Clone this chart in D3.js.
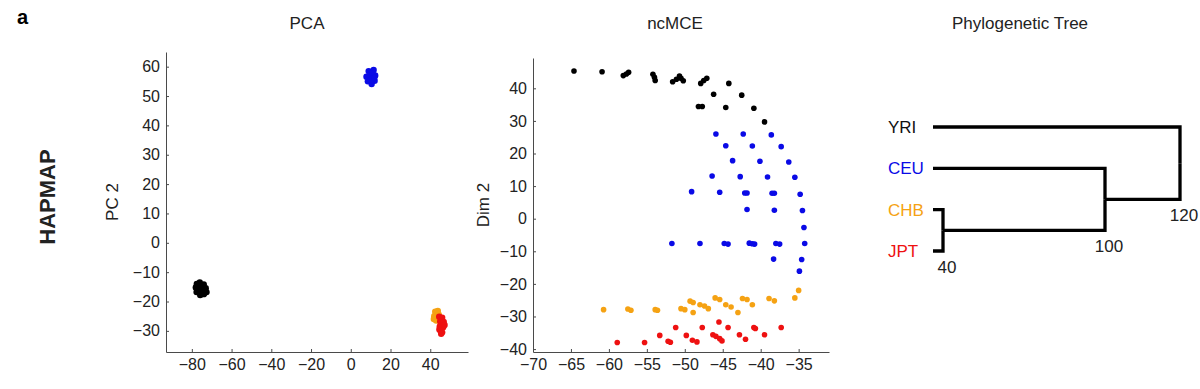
<!DOCTYPE html>
<html>
<head>
<meta charset="utf-8">
<script src="https://cdn.jsdelivr.net/npm/d3@7"></script>
<style>
  body { margin: 0; background: #fff; }
  text { font-family: "Liberation Sans", Arial, Helvetica, sans-serif; }
</style>
</head>
<body>
<svg id="fig" width="1200" height="389"></svg>
<script>
// populations, in drawing order
const popNames = ["YRI", "CEU", "CHB", "JPT"];
const popColors = ["#000000", "#0a0ae6", "#f5a213", "#ee1111"];

// PCA (PC1, PC2) - tight clusters
const pcaYRI = [[-75.3,-15.5],[-77.5,-14.0],[-76.0,-13.5],[-74.0,-14.2],[-73.0,-15.5],[-72.6,-16.8],[-74.0,-17.5],
  [-75.8,-17.8],[-77.6,-16.8],[-78.0,-15.2],[-76.5,-16.0],[-74.5,-16.2],[-75.0,-14.5],[-76.8,-15.0],[-73.5,-17.0]];
const pcaCEU = [[10.5,56.5],[9.0,58.5],[11.5,58.9],[12.3,57.0],[12.0,55.2],[10.5,54.1],[8.6,55.0],[7.9,56.6],
  [9.5,57.2],[11.0,57.8],[10.0,55.5],[11.8,56.2]];
const pcaCHB = [[42.5,-23.5],[43.8,-23.2],[44.3,-24.5],[42.0,-25.0],[43.0,-26.5],[41.8,-26.0],[44.0,-26.2]];
const pcaJPT = [[44.5,-25.2],[46.0,-25.5],[45.0,-26.8],[46.8,-27.0],[44.8,-28.5],[46.5,-28.8],[45.2,-30.0],
  [46.0,-30.5],[44.6,-29.5],[47.2,-28.0],[45.5,-31.0]];

// ncMCE (Dim 1, Dim 2)
const mceYRI = [[-64.6,45.3],[-60.9,45.1],[-58.1,43.9],[-57.7,44.4],[-57.4,44.9],[-54.2,44.3],[-54.0,43.4],[-53.9,42.4],
  [-51.6,42.0],[-51.1,42.8],[-50.7,43.8],[-50.5,43.1],[-50.2,42.3],[-47.9,41.5],[-47.5,42.4],[-47.1,43.1],
  [-44.2,41.5],[-46.2,38.2],[-42.5,37.9],[-48.2,34.4],[-47.7,34.4],[-44.6,34.1],[-40.9,33.9],[-39.5,29.7]];
const mceCEU = [[-45.9,26.0],[-42.3,26.0],[-38.6,25.7],[-44.6,22.4],[-41.1,22.3],[-37.3,22.1],
  [-43.7,17.8],[-40.1,17.6],[-36.3,17.4],[-46.4,13.1],[-42.7,12.9],[-39.1,12.8],[-35.5,12.7],
  [-49.1,8.3],[-45.4,8.1],[-42.1,7.9],[-41.8,7.9],[-38.5,7.8],[-38.2,7.8],[-34.8,7.5],
  [-41.8,2.8],[-38.2,2.6],[-34.5,2.5],[-34.3,-2.7],
  [-51.7,-7.6],[-48.0,-7.6],[-44.8,-7.6],[-44.3,-7.8],[-41.5,-7.5],[-41.1,-7.7],[-40.8,-7.8],[-38.0,-7.6],[-37.5,-7.8],[-34.2,-7.6],
  [-38.3,-12.4],[-34.6,-12.5],[-34.9,-16.1]];
const mceCHB = [[-35.0,-22.0],[-35.5,-24.3],[-38.9,-24.5],[-38.2,-25.2],[-42.4,-24.5],[-41.8,-24.8],[-41.1,-26.4],
  [-46.0,-24.3],[-45.4,-24.8],[-44.6,-26.4],[-43.9,-27.1],[-43.0,-28.8],[-49.3,-25.3],[-48.9,-25.7],
  [-48.0,-26.4],[-47.4,-26.8],[-46.9,-27.6],[-48.9,-28.8],[-50.5,-27.6],[-50.0,-27.9],[-53.9,-27.9],[-53.6,-28.1],
  [-57.5,-27.7],[-57.1,-28.1],[-60.7,-27.9]];
const mceJPT = [[-37.3,-33.4],[-39.5,-35.6],[-40.9,-33.4],[-40.7,-33.7],[-42.0,-37.0],[-42.8,-35.6],[-44.3,-33.4],
  [-45.5,-31.7],[-46.3,-35.6],[-45.9,-36.1],[-45.4,-36.8],[-45.1,-37.5],[-47.7,-33.4],[-49.0,-37.3],[-48.4,-37.8],
  [-49.8,-35.8],[-51.2,-33.4],[-52.2,-37.6],[-51.9,-37.9],[-53.3,-35.8],[-55.3,-38.0],[-58.9,-38.0]];

// tick values
const pcaXTicks = [-80, -60, -40, -20, 0, 20, 40];
const pcaYTicks = [-30, -20, -10, 0, 10, 20, 30, 40, 50, 60];
const mceXTicks = [-70, -65, -60, -55, -50, -45, -40, -35];
const mceYTicks = [-40, -30, -20, -10, 0, 10, 20, 30, 40];

// tree: merge heights
const treeData = {height: 120, children: [
  {name: "YRI", height: 0},
  {height: 100, children: [
    {name: "CEU", height: 0},
    {height: 40, children: [{name: "CHB", height: 0}, {name: "JPT", height: 0}]}
  ]}
]};
const treeHeights = [0, 40, 100, 120];

const svg = d3.select("#fig");
const colorOf = d3.scaleOrdinal(popNames, popColors);

function scatterPanel(xDom, yDom, xRange, yRange, xTicks, yTicks, sets, r, title, titleX, yLabel, yLabelX) {
  const x = d3.scaleLinear().domain(xDom).range(xRange);
  const y = d3.scaleLinear().domain(yDom).range(yRange);
  const g = svg.append("g");

  const xa = g.append("g").attr("transform", `translate(0,${yRange[0]})`)
    .call(d3.axisBottom(x).tickValues(xTicks).tickSizeInner(-3).tickSizeOuter(0).tickPadding(7));
  const ya = g.append("g").attr("transform", `translate(${xRange[0]},0)`)
    .call(d3.axisLeft(y).tickValues(yTicks).tickSizeInner(-3).tickSizeOuter(0).tickPadding(6));
  [xa, ya].forEach(a => {
    a.attr("font-family", null).attr("font-size", 16).attr("color", "#4a4a4a");
    a.selectAll("text").attr("fill", "#222");
  });

  sets.forEach((pts, i) => {
    g.append("g").attr("fill", colorOf(popNames[i]))
      .selectAll("circle").data(pts).join("circle")
      .attr("cx", d => x(d[0])).attr("cy", d => y(d[1])).attr("r", r);
  });

  g.append("text").attr("x", titleX).attr("y", 29).attr("text-anchor", "middle")
    .attr("font-size", 17).attr("fill", "#222").text(title);
  g.append("text").attr("transform", `translate(${yLabelX},${(yRange[0] + yRange[1]) / 2}) rotate(-90)`)
    .attr("text-anchor", "middle").attr("font-size", 17).attr("fill", "#222").text(yLabel);
}

// panel letter + row label
svg.append("text").attr("x", 17).attr("y", 24).attr("font-size", 20).attr("font-weight", "bold").text("a");
svg.append("text").attr("transform", "translate(55,197) rotate(-90)").attr("text-anchor", "middle")
  .attr("font-size", 22).attr("font-weight", "bold").attr("fill", "#222").text("HAPMAP");

scatterPanel([-93, 59], [-37.2, 65], [166, 468], [352, 52], pcaXTicks, pcaYTicks,
  [pcaYRI, pcaCEU, pcaCHB, pcaJPT], 3.2, "PCA", 307, "PC 2", 118);

scatterPanel([-70, -31], [-40.9, 49.3], [533, 829], [352, 58], mceXTicks, mceYTicks,
  [mceYRI, mceCEU, mceCHB, mceJPT], 2.8, "ncMCE", 675, "Dim 2", 489);

// phylogenetic tree
const root = d3.hierarchy(treeData);
const leaves = root.leaves();
const yLeaf = d3.scalePoint().domain(leaves.map(d => d.data.name)).range([127, 251]);
const xH = d3.scaleLinear().domain(treeHeights).range([933, 943, 1105, 1180]);
root.eachAfter(n => {
  n.tx = xH(n.data.height);
  n.ty = n.children ? d3.mean(n.children, c => c.ty) : yLeaf(n.data.name);
});

const tg = svg.append("g");
tg.append("text").attr("x", 1020).attr("y", 29).attr("text-anchor", "middle")
  .attr("font-size", 17).attr("fill", "#222").text("Phylogenetic Tree");

tg.append("g").attr("fill", "none").attr("stroke", "#000").attr("stroke-width", 3.3)
  .attr("stroke-linejoin", "miter")
  .selectAll("path").data(root.links()).join("path")
  .attr("d", l => `M${l.target.tx},${l.target.ty}H${l.source.tx}V${l.source.ty}`);

tg.selectAll(".leaf").data(leaves).join("text")
  .attr("x", 888).attr("y", d => d.ty).attr("dy", "0.36em")
  .attr("font-size", 17).attr("fill", d => colorOf(d.data.name) === "#000000" ? "#111" : colorOf(d.data.name))
  .text(d => d.data.name);

tg.selectAll(".hlab").data(root.descendants().filter(d => d.children)).join("text")
  .attr("x", d => d.tx + 4).attr("y", d => d.children[d.children.length - 1].ty + 16).attr("dy", "0.36em")
  .attr("text-anchor", "middle").attr("font-size", 17).attr("fill", "#222")
  .text(d => d.data.height);
</script>
</body>
</html>
